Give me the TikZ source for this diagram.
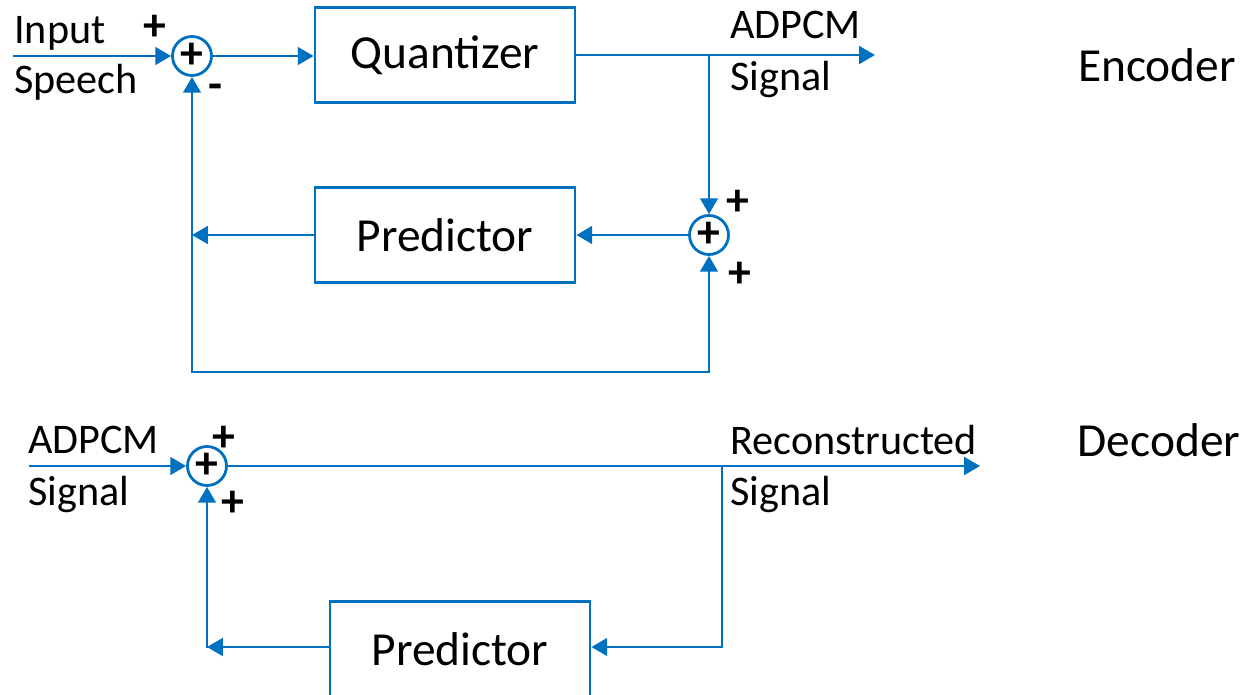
\documentclass[tikz,border=0pt]{standalone}
\usepackage{fontspec}
\setmainfont{Carlito}
\usetikzlibrary{arrows.meta}
\definecolor{lineblue}{RGB}{0,112,192}
\begin{document}
\begin{tikzpicture}[x=0.02cm,y=-0.02cm]

	\useasboundingbox (0,0) rectangle (1243,694);

	\tikzstyle{block}=[draw=lineblue,line width=1.6pt,fill=white,
		minimum width=5.2cm,minimum height=1.9cm,
		font=\fontsize{27}{32}\selectfont]
	\tikzstyle{adder}=[draw=lineblue,line width=1.6pt,circle,
		minimum size=0.78cm,inner sep=0pt,
		font=\bfseries\fontsize{26}{30}\selectfont]
	\tikzstyle{txt}=[font=\fontsize{24}{28}\selectfont,
		anchor=base west,inner sep=0pt]
	\tikzstyle{pm}=[font=\bfseries\fontsize{26}{30}\selectfont,inner sep=0pt]
	\tikzstyle{wire}=[lineblue,line width=1.6pt,line cap=rect]
	\tikzstyle{flow}=[wire,-{Triangle[length=9pt,width=10pt]}]

	% encoder
	\node[adder]	(sum1)	at (192,56)	{+};
	\node[block]	(quant)	at (445,55)	{Quantizer};
	\node[block]	(pred1)	at (445,235)	{Predictor};
	\node[adder]	(sum2)	at (709,235)	{+};
	\coordinate	(in1)	at (14,56);
	\coordinate	(out1)	at (875,55);
	\coordinate	(bl1)	at (192,372);
	\coordinate	(br1)	at (709,372);

	\draw[flow] (in1) -- (sum1.west);
	\draw[flow] (sum1.east) -- (sum1.east -| quant.west);
	\draw[flow] (quant.east) -- (out1);
	\draw[flow] (quant.east -| sum2) -- (sum2.north);
	\draw[flow] (sum2.west) -- (pred1.east);
	\draw[flow] (pred1.west) -- (pred1.west -| bl1);
	\draw[flow] (br1) -- (bl1) -- (sum1.south);
	\draw[flow] (br1) -- (sum2.south);

	\node[txt]	(inA)	at (14,43)	{Input};
	\node[txt]	(inB)	at (14,93)	{Speech};
	\node[pm]	(p1)	at (155,28)	{+};
	\node[pm]	(m1)	at (215,92)	{-};
	\node[txt]	(outA)	at (730,38)	{ADPCM};
	\node[txt]	(outB)	at (730,90)	{Signal};
	\node[pm]	(p2)	at (738,203)	{+};
	\node[pm]	(p3)	at (740,275)	{+};
	\node[font=\fontsize{27}{32}\selectfont]	(enc)	at (1157,65)	{Encoder};

	% decoder
	\node[adder]	(sum3)	at (207,466)	{+};
	\node[block]	(pred2)	at (460,649)	{Predictor};
	\coordinate	(in2)	at (30,466);
	\coordinate	(out2)	at (980,466);
	\coordinate	(jr2)	at (722,647);
	\coordinate	(cl2)	at (207,647);

	\draw[flow] (in2) -- (sum3.west);
	\draw[flow] (sum3.east) -- (out2);
	\draw[flow] (sum3.east -| jr2) -- (jr2) -- (pred2.east |- jr2);
	\draw[flow] (pred2.west |- cl2) -- (cl2);
	\draw[flow] (cl2) -- (sum3.south);

	\node[txt]	(decA)	at (28,453)	{ADPCM};
	\node[txt]	(decB)	at (28,505)	{Signal};
	\node[pm]	(p4)	at (224,439)	{+};
	\node[pm]	(p5)	at (233,504)	{+};
	\node[txt]	(recA)	at (730,454)	{Reconstructed};
	\node[txt]	(recB)	at (730,505)	{Signal};
	\node[font=\fontsize{27}{32}\selectfont]	(dec)	at (1159,440)	{Decoder};

\end{tikzpicture}
\end{document}
